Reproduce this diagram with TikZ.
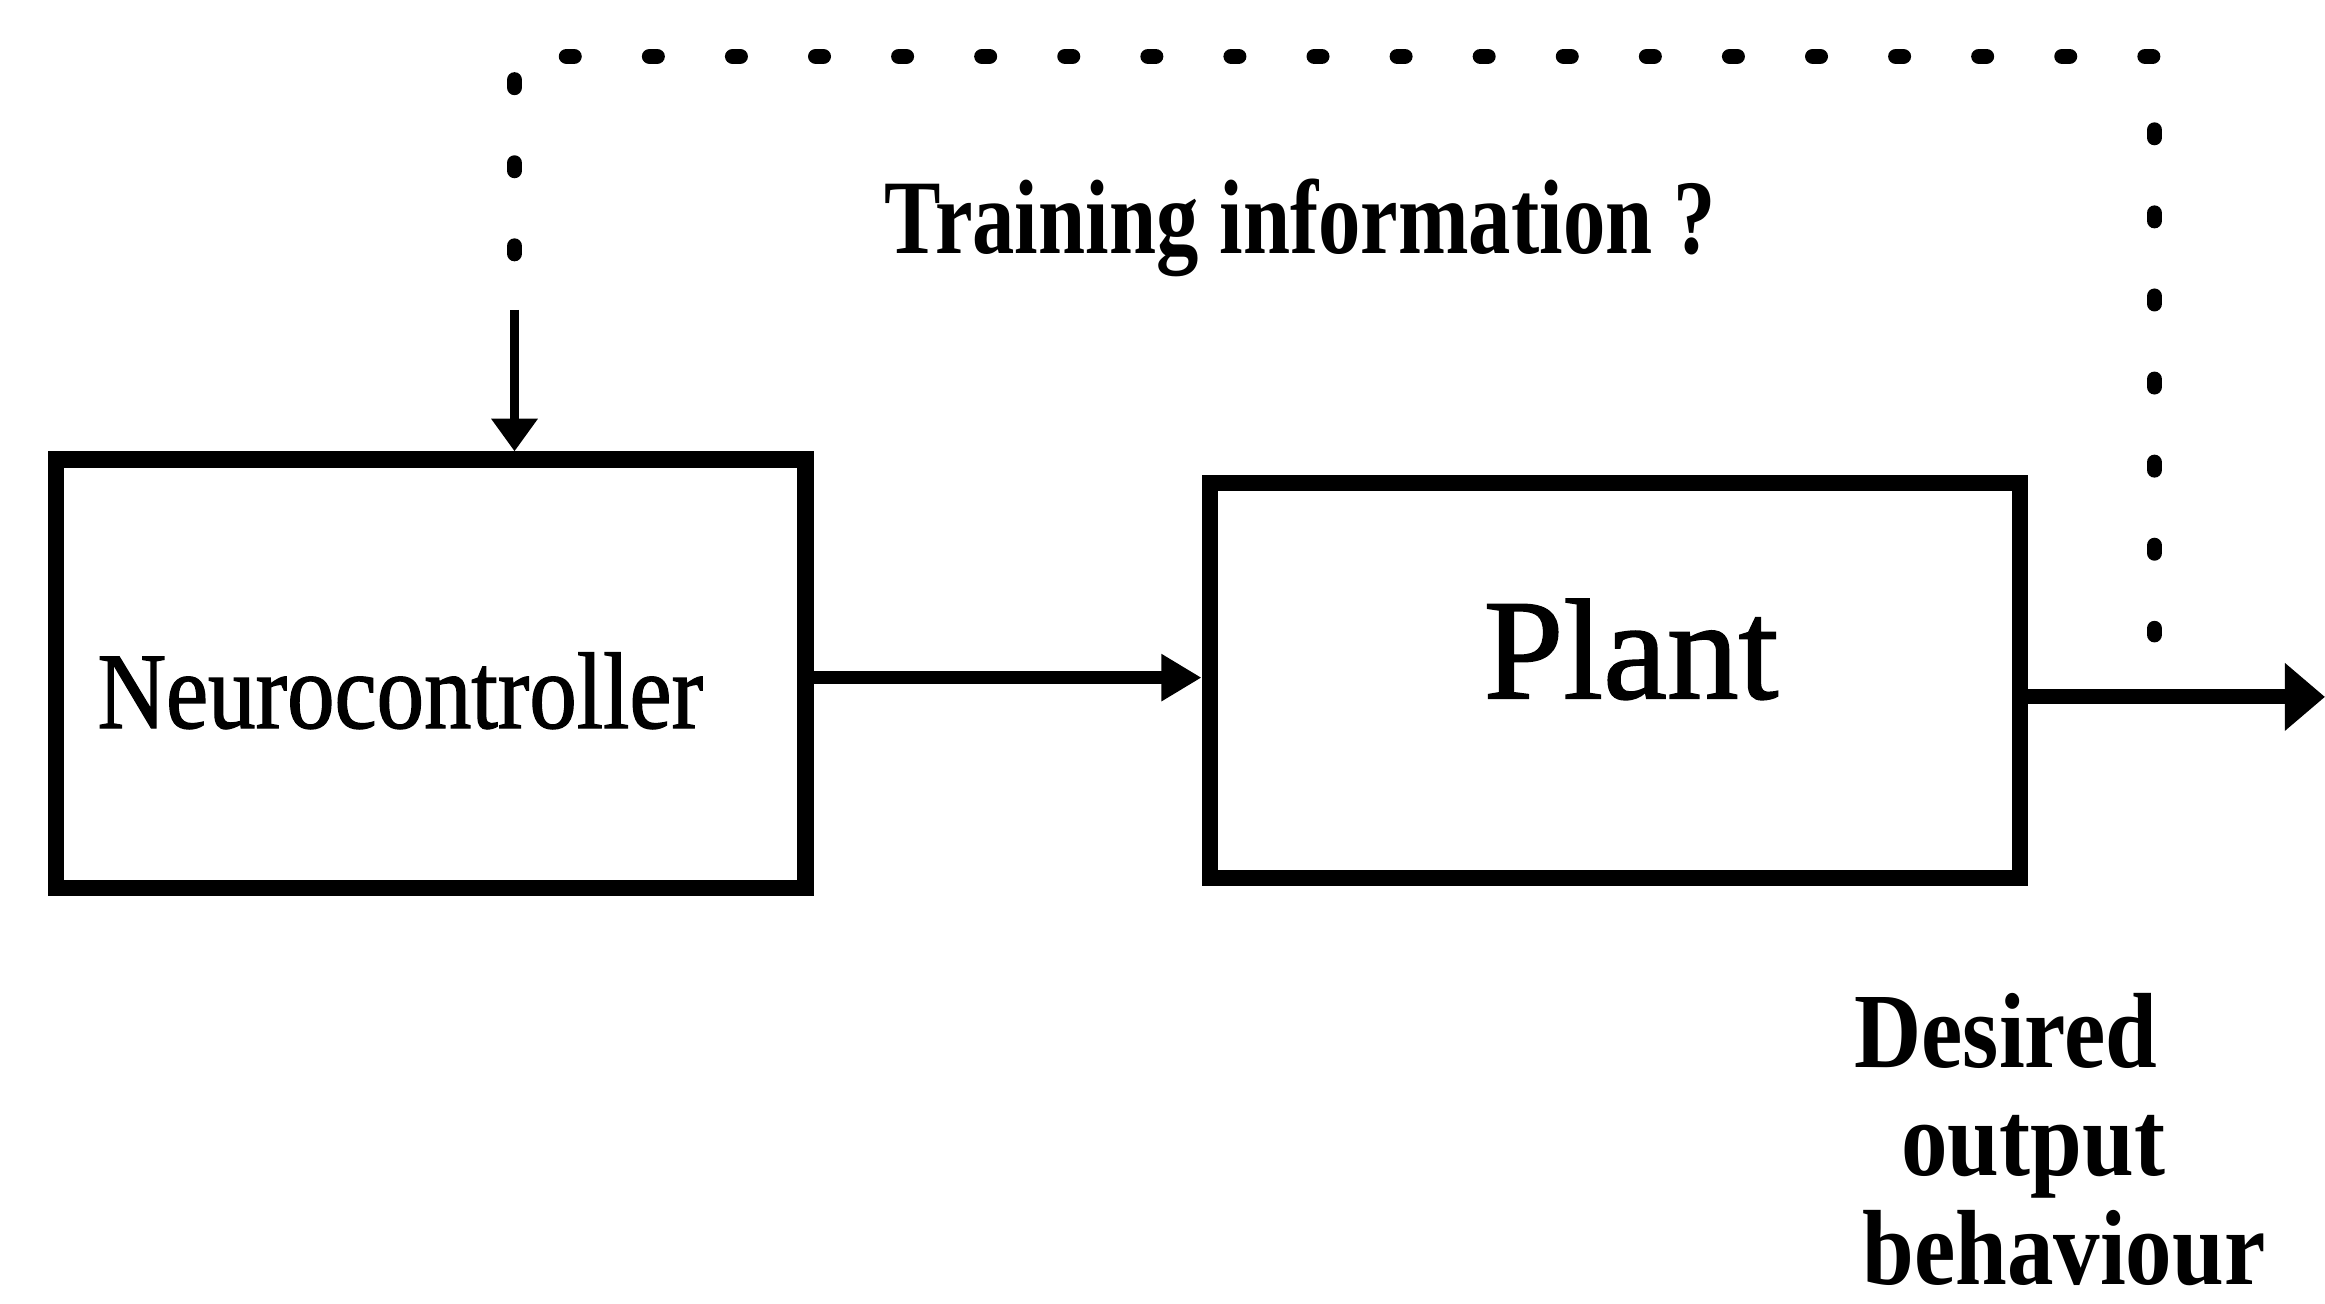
\documentclass[tikz,border=0pt]{standalone}
\usepackage{fontspec}
\setmainfont{Liberation Serif}
\newfontfamily\narrowserif[FakeStretch=0.87, FakeBold=1.2]{Liberation Serif}
\newfontfamily\plainserif[FakeBold=1.2]{Liberation Serif}
\newfontfamily\narrowbold[FakeStretch=0.8]{Liberation Serif Bold}
\newfontfamily\labelbold[FakeStretch=0.87]{Liberation Serif Bold}
\usetikzlibrary{arrows.meta}

\begin{document}
\begin{tikzpicture}[x=0.01cm, y=-0.01cm,
  block/.style={draw, rectangle, line width=0.11cm, inner sep=0pt},
  txt/.style={inner sep=0pt},
  flow/.style={line width=0.085cm, -{Triangle[length=0.27cm, width=0.3cm]}},
  outflow/.style={line width=0.1cm, -{Triangle[length=0.27cm, width=0.44cm]}},
  fbflow/.style={line width=0.06cm, -{Triangle[length=0.22cm, width=0.3cm]}},
  dotline/.style={line width=0.105cm, line cap=round, dash pattern=on 0.05cm off 0.51cm}]

  % canvas
  \fill[white] (0,0) rectangle (1568,879);
  \useasboundingbox (0,0) rectangle (1568,879);

  % blocks
  \node[block, minimum width=5.05cm, minimum height=2.89cm] (nc) at (290.5,454.5) {};
  \node[block, minimum width=5.46cm, minimum height=2.66cm] (plant) at (1089,459) {};

  % texts
  \node[txt, anchor=base, font=\narrowserif\fontsize{20.9}{25}\selectfont] (nctext) at (270,491) {Neurocontroller};
  \node[txt, anchor=base, font=\plainserif\fontsize{27.5}{33}\selectfont] (planttext) at (1100,471) {Plant};
  \node[txt, anchor=base, font=\narrowbold\fontsize{20.3}{24}\selectfont] (train) at (877,171) {Training information ?};
  \node[txt, anchor=base west, align=left, font=\labelbold\fontsize{20.5}{20.8}\selectfont] (desired) at (1250,866)
    {Desired\\\hspace*{9pt}output\\\hspace*{1.5pt}behaviour};

  % helper points
  \coordinate (midy) at (0,457);
  \coordinate (out) at (1568,470);
  \coordinate (fbtop) at (347,209);
  \coordinate (fbdot) at (347,171);
  \coordinate (c1) at (347,38);
  \coordinate (c2) at (1453,38);
  \coordinate (fbend) at (1453,428);

  % signal flow
  \draw[flow] (nc.east |- midy) -- (plant.west |- midy);
  \draw[outflow] (plant.east |- out) -- (out);

  % training feedback
  \draw[dotline] (fbdot) -- (c1) -- (c2) -- (fbend);
  \draw[fbflow] (fbtop) -- (nc.north -| fbtop);
\end{tikzpicture}
\end{document}
